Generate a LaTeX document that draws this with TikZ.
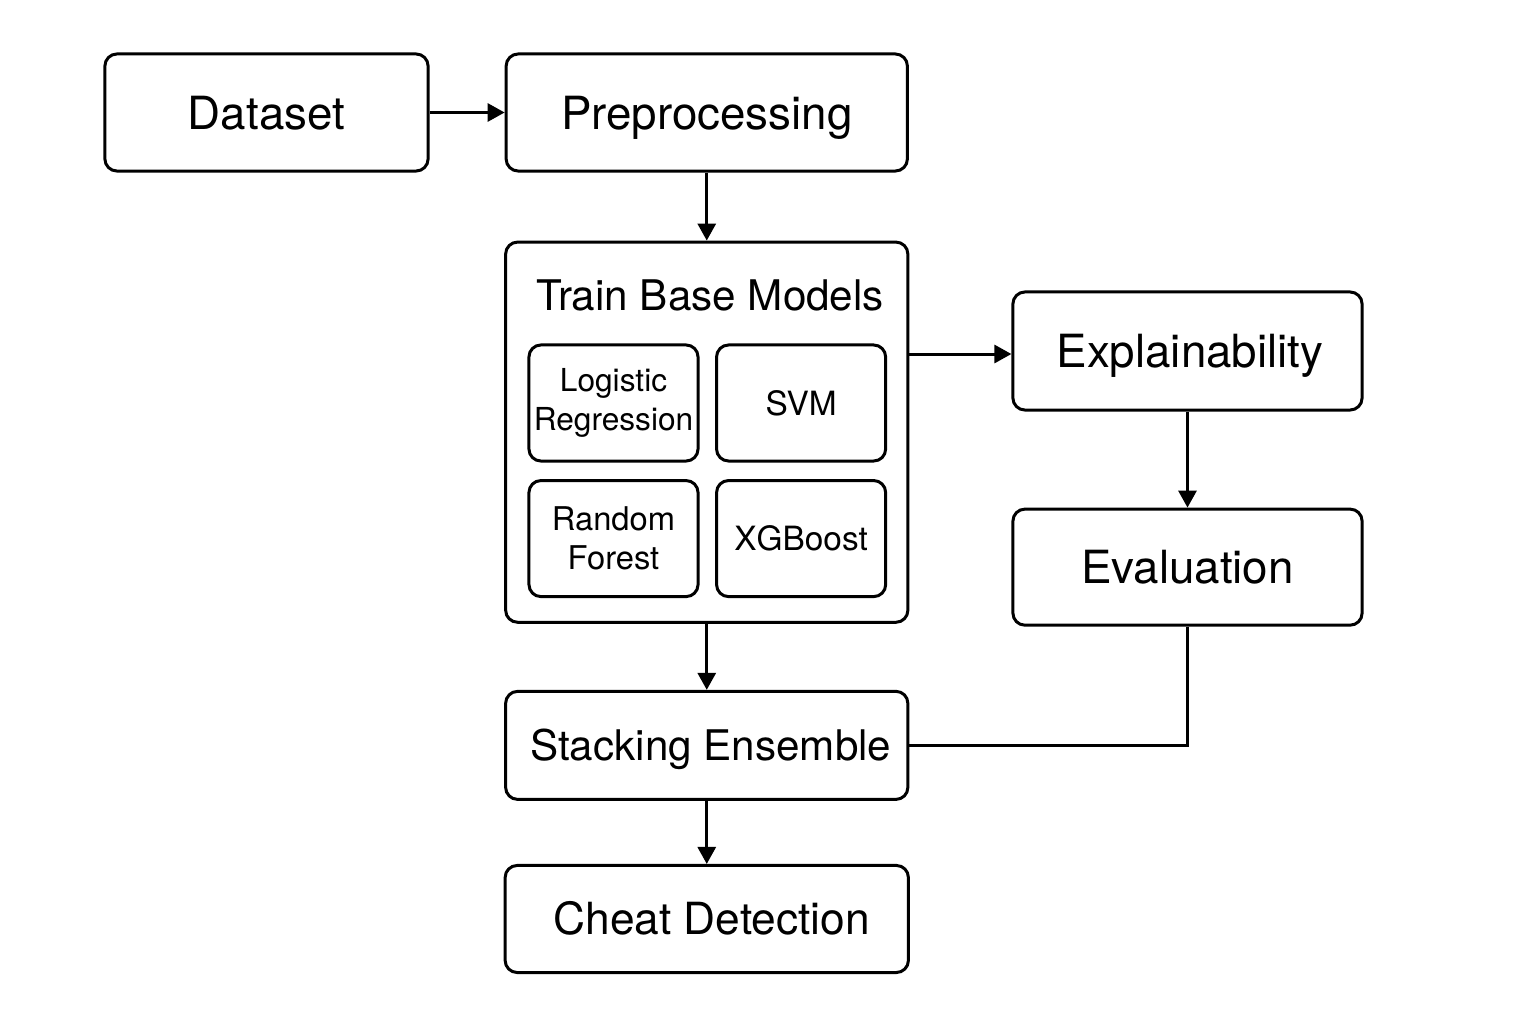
\documentclass[tikz,border=0pt]{standalone}
\usepackage{fontspec}
\setmainfont{TeX Gyre Heros}
\usepackage{tikz}
\usetikzlibrary{positioning,arrows.meta}

\tikzset{
  block/.style={draw, line width=0.85pt, rounded corners=0.12cm, align=center, inner sep=2pt},
  bigblock/.style={block, font=\fontsize{13}{15.6}\selectfont, text height=9.4pt, text depth=0pt},
  model/.style={block, inner sep=0pt, minimum width=1.69cm, minimum height=1.16cm, font=\fontsize{9.3}{11}\selectfont},
  link/.style={line width=0.85pt, -{Triangle[length=0.17cm,width=0.18cm]}}
}

\begin{document}
\begin{tikzpicture}[x=0.01cm, y=-0.01cm, on grid, node distance=2cm]
   \useasboundingbox (0,0) rectangle (1536,1024);

   \node[bigblock, minimum width=3.23cm, minimum height=1.17cm] (dataset) at (266.5,112.5) {Dataset};
   \node[bigblock, minimum width=4.01cm, minimum height=1.17cm] (prep) [right=4.4cm of dataset] {Preprocessing};

   % base models
   \node[block, minimum width=4.02cm, minimum height=3.8cm] (train) [below=3.195cm of prep] {};
   \node[font=\fontsize{12}{14}\selectfont, text height=8.6pt, text depth=0pt] (title) at (710,295) {Train Base Models};
   \node[model, font=\fontsize{9}{11}\selectfont] (logreg) at (613.5,403) {Logistic\\Regression};
   \node[model, font=\fontsize{9.5}{11}\selectfont] (svm) [right=1.875cm of logreg] {SVM};
   \node[model] (rf) [below=1.355cm of logreg] {Random\\Forest};
   \node[model, font=\fontsize{9.5}{11}\selectfont] (xgb) [right=1.875cm of rf] {XGBoost};

   \node[bigblock, minimum width=3.49cm, minimum height=1.18cm] (expl) at (1187.5,351) {\hspace{0.05cm}Explainability};
   \node[bigblock, minimum width=3.49cm, minimum height=1.16cm] (eval) [below=2.16cm of expl] {Evaluation};

   \node[block, font=\fontsize{12}{14}\selectfont, text height=8.6pt, text depth=0pt, minimum width=4.02cm, minimum height=1.08cm] (stack) [below=3.13cm of train] {\hspace{0.08cm}Stacking Ensemble};
   \node[block, font=\fontsize{12.6}{15}\selectfont, text height=9pt, text depth=0pt, minimum width=4.03cm, minimum height=1.07cm] (cheat) [below=1.735cm of stack] {\hspace{0.1cm}Cheat Detection};

   \draw[link] (dataset) -- (prep);
   \draw[link] (prep) -- (train);
   \draw[link] ([yshift=-0.03cm]train.east |- expl.west) -- ([yshift=-0.03cm]expl.west);
   \draw[link] (expl) -- (eval);
   \draw[link] (train) -- (stack);
   \draw[link] (stack) -- (cheat);
   \draw[line width=0.85pt] (eval.south) |- (stack.east);
\end{tikzpicture}
\end{document}
